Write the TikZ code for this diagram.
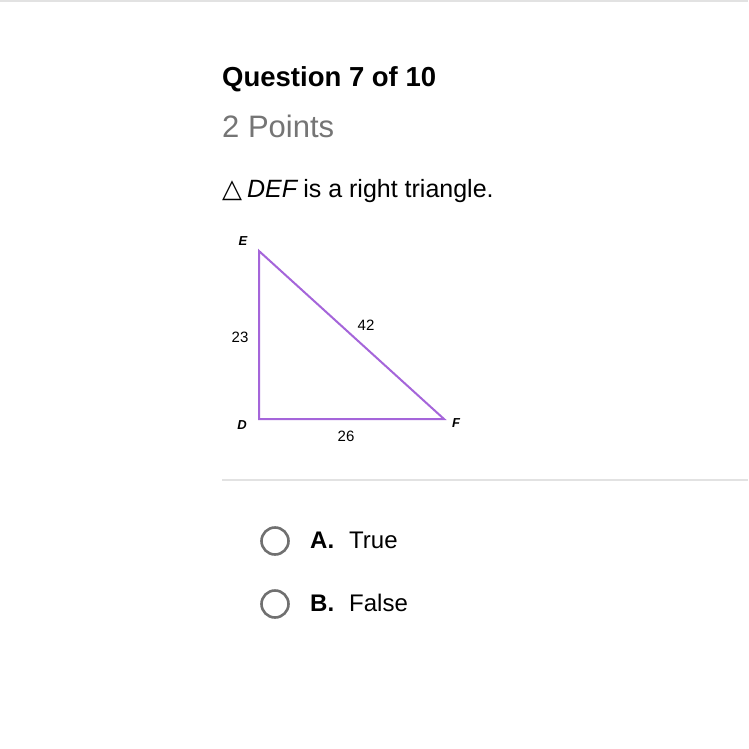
\documentclass[tikz,border=0pt]{standalone}
\usepackage{fontspec}
\setmainfont{Liberation Sans}
\newfontfamily\symfont{DejaVu Sans}
\definecolor{tri}{HTML}{A565DA}
\definecolor{ptgray}{HTML}{757575}
\definecolor{sepgray}{HTML}{E2E2E2}
\definecolor{radgray}{HTML}{707070}
\tikzset{
  txt/.style={inner sep=0pt, anchor=base west},
  lbl/.style={inner sep=0pt, anchor=base, font=\fontsize{15}{15}\selectfont},
  vlbl/.style={inner sep=0pt, anchor=base, font=\fontsize{13}{13}\selectfont\bfseries\itshape},
  side/.style={draw=tri, line width=2pt},
  radio/.style={circle, draw=radgray, line width=2.6pt, minimum size=27pt, inner sep=0pt},
}
\begin{document}
\begin{tikzpicture}[x=1pt,y=-1pt]
\useasboundingbox (0,0) rectangle (748,749);
\fill[white] (0,0) rectangle (748,749);
\fill[sepgray] (0,0) rectangle (748,2);
\node[txt, font=\fontsize{27.5}{27.5}\selectfont\bfseries] (q) at (222,87) {Question 7 of 10};
\node[txt, font=\fontsize{31}{31}\selectfont, text=ptgray] (pts) at (222,138) {2 Points};
\node[txt, font=\fontsize{25}{25}\selectfont] (stmt) at (222,197) {{\symfont\fontsize{26}{26}\selectfont △}\hspace{5pt}\textit{DEF}\hspace{-2pt} is a right triangle.};
\coordinate (E) at (259,251);
\coordinate (D) at (259,419);
\coordinate (F) at (444,419);
\draw[side, line join=miter] (E) -- (D) -- (F) -- cycle;
\node[vlbl] (lE) at (243,245) {E};
\node[vlbl] (lD) at (242,429) {D};
\node[vlbl] (lF) at (456,427) {F};
\node[lbl] (l23) at (240,342) {23};
\node[lbl] (l42) at (366,330) {42};
\node[lbl] (l26) at (346,441) {26};
\draw[sepgray, line width=1.2pt] (222,480) coordinate (s1) -- (748,480) coordinate (s2);
\node[radio] (ra) at (275,541) {};
\node[radio] (rb) at (275,604) {};
\node[txt, font=\fontsize{24}{24}\selectfont\bfseries] (la) at (310,548) {A.};
\node[txt, font=\fontsize{24}{24}\selectfont] (ta) at (349,548) {True};
\node[txt, font=\fontsize{24}{24}\selectfont\bfseries] (lb) at (310,611) {B.};
\node[txt, font=\fontsize{24}{24}\selectfont] (tb) at (349,611) {False};
\end{tikzpicture}
\end{document}
